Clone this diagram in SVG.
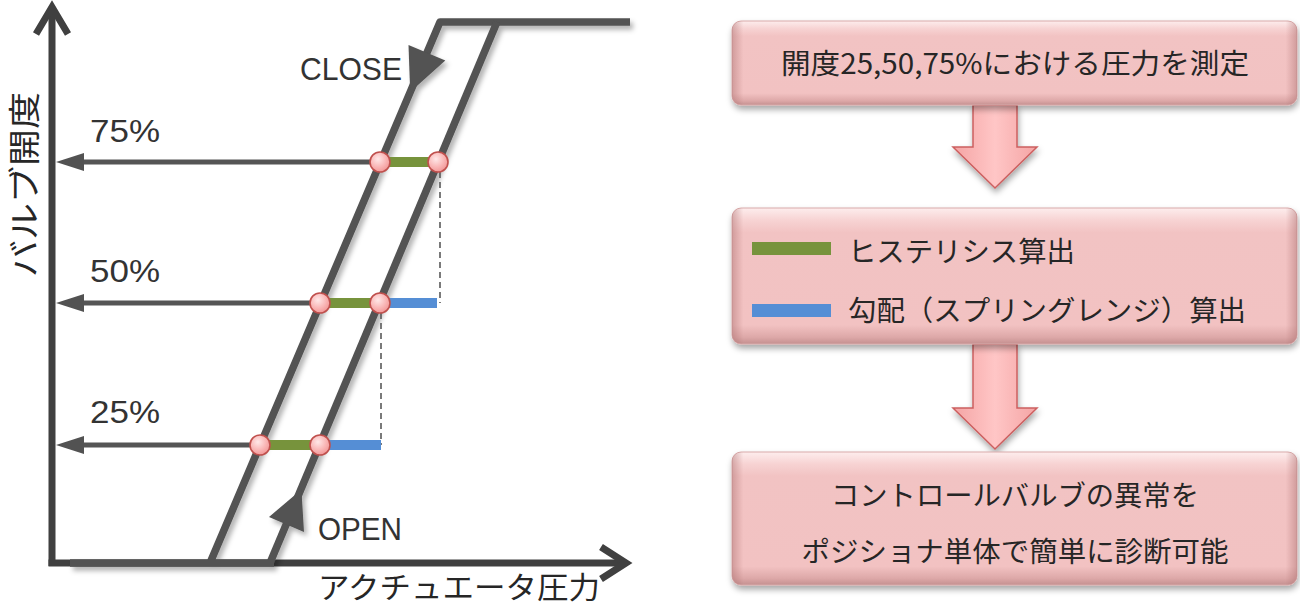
<svg xmlns="http://www.w3.org/2000/svg" width="1300" height="605" viewBox="0 0 1300 605">
<defs>
<style>
.ax{stroke:#404040;stroke-width:7;fill:none;}
.cv{stroke:#525252;stroke-width:7.5;fill:none;stroke-linejoin:round;}
.hl{stroke:#555555;stroke-width:5;}
.ah{fill:#525252;}
.gr{stroke:#77933C;stroke-width:10;}
.bl{stroke:#558ED5;stroke-width:10;}
.dash{stroke:#595959;stroke-width:1.6;stroke-dasharray:6 4;fill:none;}
.pt{fill:url(#cg);stroke:#C0504D;stroke-width:1.6;}
.lbl{font-family:"Liberation Sans",Arial,sans-serif;font-size:31px;fill:#333333;}
.jp{font-family:"Noto Sans CJK JP","Noto Sans CJK SC",sans-serif;fill:#262626;}
.bt{font-size:28px;}
.boxbase{fill:url(#bg);stroke:#D9AAAA;stroke-width:1;}
.boxedge{fill:url(#edge);}
.barrow{fill:url(#ag);stroke:#CC5F5F;stroke-width:1.5;stroke-linejoin:miter;}
</style>
<radialGradient id="cg" cx="0.4" cy="0.35" r="0.7">
<stop offset="0" stop-color="#FFE8E8"/>
<stop offset="0.6" stop-color="#F9B4B4"/>
<stop offset="1" stop-color="#F09494"/>
</radialGradient>
<linearGradient id="bg" x1="0" y1="0" x2="0" y2="1">
<stop offset="0" stop-color="#FDEDED"/>
<stop offset="0.09" stop-color="#F7D3D3"/>
<stop offset="0.18" stop-color="#F2C3C3"/>
<stop offset="0.86" stop-color="#F2C2C2"/>
<stop offset="0.95" stop-color="#DDA8A8"/>
<stop offset="1" stop-color="#C49090"/>
</linearGradient>
<linearGradient id="edge" x1="0" y1="0" x2="1" y2="0">
<stop offset="0" stop-color="#A86A6A" stop-opacity="0.45"/>
<stop offset="0.02" stop-color="#A86A6A" stop-opacity="0"/>
<stop offset="0.98" stop-color="#A86A6A" stop-opacity="0"/>
<stop offset="1" stop-color="#A86A6A" stop-opacity="0.45"/>
</linearGradient>
<linearGradient id="ag" x1="0" y1="0" x2="1" y2="0">
<stop offset="0" stop-color="#F4A4A4"/>
<stop offset="0.5" stop-color="#FFC6C6"/>
<stop offset="1" stop-color="#F4A4A4"/>
</linearGradient>
<filter id="sh" filterUnits="userSpaceOnUse" x="0" y="0" width="1300" height="605">
<feDropShadow dx="3" dy="4" stdDeviation="2.5" flood-color="#000" flood-opacity="0.3"/>
</filter>
<filter id="bsh" filterUnits="userSpaceOnUse" x="0" y="0" width="1300" height="605">
<feDropShadow dx="1" dy="4" stdDeviation="3" flood-color="#000" flood-opacity="0.35"/>
</filter>
</defs>
<rect width="1300" height="605" fill="#FFFFFF"/>

<!-- Left chart -->
<g id="axes">
<line class="ax" x1="52" y1="566" x2="52" y2="8"/>
<polyline class="ax" points="36,34 52,7 68,34" stroke-linejoin="miter"/>
<line class="ax" x1="48.5" y1="563" x2="625" y2="563"/>
<polyline class="ax" points="601,547 626,563 601,579" stroke-linejoin="miter"/>
</g>

<g id="connectors">
<g id="curves" filter="url(#sh)">
<polyline class="cv" points="210,563 440,22 630,22"/>
<line class="cv" x1="270" y1="563" x2="497" y2="22"/>
<line class="cv" x1="70" y1="563" x2="274" y2="563"/>
<polygon class="ah" points="445.3,60.6 410.2,91.9 408.5,45.0 426.9,52.8"/>
<polygon class="ah" points="304,531.9 301.4,489.4 269,517 286.5,524.4"/>
</g>
<g id="levels">
<line class="hl" x1="80" y1="162" x2="380" y2="162"/>
<polygon class="ah" points="56,162 84,153 84,171"/>
<line class="hl" x1="80" y1="303" x2="320" y2="303"/>
<polygon class="ah" points="56,303 84,294 84,312"/>
<line class="hl" x1="80" y1="445" x2="260" y2="445"/>
<polygon class="ah" points="56,445 84,436 84,454"/>
<line class="dash" x1="440" y1="172" x2="440" y2="303"/>
<line class="dash" x1="381" y1="313" x2="381" y2="445"/>
<line class="gr" x1="380" y1="162" x2="438" y2="162"/>
<line class="gr" x1="320" y1="303" x2="380" y2="303"/>
<line class="bl" x1="380" y1="303" x2="437" y2="303"/>
<line class="gr" x1="260" y1="445" x2="320" y2="445"/>
<line class="bl" x1="320" y1="445" x2="381" y2="445"/>
</g>
<g id="flow-arrows" filter="url(#bsh)">
<path class="barrow" d="M973,105 L1017,105 L1017,147 L1037,147 L995,188 L953,147 L973,147 Z"/>
<path class="barrow" d="M973,344 L1017,344 L1017,408 L1037,408 L995,449 L953,408 L973,408 Z"/>
</g>
</g>

<g id="points">
<circle class="pt" cx="380" cy="162" r="10"/>
<circle class="pt" cx="438" cy="162" r="10"/>
<circle class="pt" cx="320" cy="303" r="10"/>
<circle class="pt" cx="380" cy="303" r="10"/>
<circle class="pt" cx="260" cy="445" r="10"/>
<circle class="pt" cx="320" cy="445" r="10"/>
</g>

<g id="labels">
<text class="lbl" x="300" y="80" textLength="102" lengthAdjust="spacingAndGlyphs">CLOSE</text>
<text class="lbl" x="318" y="540" textLength="84" lengthAdjust="spacingAndGlyphs">OPEN</text>
<text class="lbl" x="90" y="142" textLength="70" lengthAdjust="spacingAndGlyphs">75%</text>
<text class="lbl" x="90" y="282" textLength="70" lengthAdjust="spacingAndGlyphs">50%</text>
<text class="lbl" x="90" y="423" textLength="70" lengthAdjust="spacingAndGlyphs">25%</text>
<text class="jp" font-size="32" transform="translate(22,184.5) rotate(-90)" text-anchor="middle" dominant-baseline="central" textLength="185" lengthAdjust="spacingAndGlyphs" fill="#333333">バルブ開度</text>
<text class="jp" font-size="30" x="318" y="598" textLength="282" lengthAdjust="spacingAndGlyphs" fill="#333333">アクチュエータ圧力</text>
</g>

<!-- Right flow -->
<g id="box1">
<g filter="url(#bsh)"><rect class="boxbase" x="732" y="21" width="565" height="84" rx="9"/></g>
<rect class="boxedge" x="732" y="21" width="565" height="84" rx="9"/>
<text class="jp bt" x="1015" y="74" text-anchor="middle" textLength="468" lengthAdjust="spacingAndGlyphs">開度25,50,75%における圧力を測定</text>
</g>

<g id="box2">
<g filter="url(#bsh)"><rect class="boxbase" x="732" y="208" width="565" height="136" rx="9"/></g>
<rect class="boxedge" x="732" y="208" width="565" height="136" rx="9"/>
<rect x="752" y="242" width="79" height="13" fill="#77933C"/>
<rect x="752" y="304" width="79" height="13" fill="#558ED5"/>
<text class="jp bt" x="848" y="262" textLength="227" lengthAdjust="spacingAndGlyphs">ヒステリシス算出</text>
<text class="jp bt" x="848" y="321" textLength="398" lengthAdjust="spacingAndGlyphs">勾配（スプリングレンジ）算出</text>
</g>

<g id="box3">
<g filter="url(#bsh)"><rect class="boxbase" x="732" y="452" width="565" height="133" rx="9"/></g>
<rect class="boxedge" x="732" y="452" width="565" height="133" rx="9"/>
<text class="jp bt" x="1015" y="506" text-anchor="middle" textLength="368" lengthAdjust="spacingAndGlyphs">コントロールバルブの異常を</text>
<text class="jp bt" x="1015" y="562" text-anchor="middle" textLength="427" lengthAdjust="spacingAndGlyphs">ポジショナ単体で簡単に診断可能</text>
</g>
</svg>
